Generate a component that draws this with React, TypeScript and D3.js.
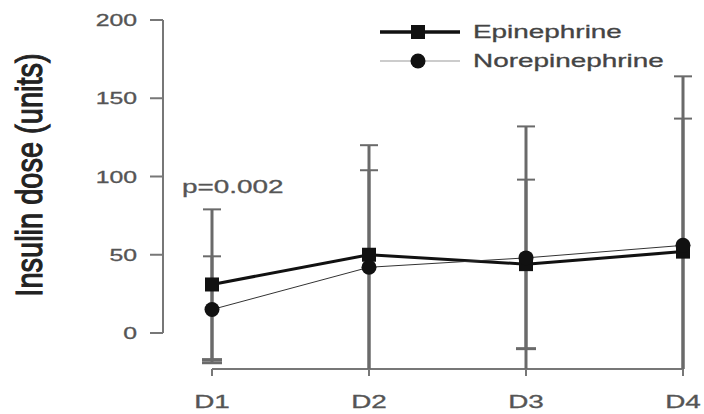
import React from 'react';
import * as d3 from 'd3';

const days = ['D1', 'D2', 'D3', 'D4'];
const yTicks = [0, 50, 100, 150, 200];

const epiMean = [31, 50, 44, 52];
const epiHigh = [79, 120, 98, 137];
const epiLow = [-17, -40, -10, -40];

const norMean = [15, 42, 48, 56];
const norHigh = [49, 104, 132, 164];
const norLow = [-19, -40, -36, -40];

const pLabel = 'p=0.002';
const FONT = '"Liberation Sans", Arial, Helvetica, sans-serif';
const SX = 1.55; // the reference is stretched sideways

const App: React.FC = () => {
  const width = 704;
  const height = 414;

  const x = d3.scalePoint<string>().domain(days).range([212, 683]);
  const y = d3.scaleLinear().domain([0, 200]).range([333, 20]);
  const yFloor = -23; // where the x axis sits
  const axisY = y(yFloor);

  const lineGen = d3.line<number>()
    .x((_, i) => x(days[i])!)
    .y(d => y(d));

  const series = [
    { name: 'Epinephrine', mean: epiMean, high: epiHigh, low: epiLow, lw: 3, shape: 'square' },
    { name: 'Norepinephrine', mean: norMean, high: norHigh, low: norLow, lw: 1, shape: 'circle' },
  ];

  const stretched = (tx: number, ty: number) => `translate(${tx},${ty}) scale(${SX},1)`;

  return (
    <svg width={width} height={height} style={{ position: 'absolute', left: 0, top: 0, background: '#fff' }}>
      {/* y axis */}
      <line x1={163} x2={163} y1={y(200)} y2={y(0)} stroke="#777" strokeWidth={2} />
      {yTicks.map(t => (
        <g key={t}>
          <line x1={150} x2={163} y1={y(t)} y2={y(t)} stroke="#777" strokeWidth={2} />
          <text transform={stretched(137, y(t) + 6)} textAnchor="end" fontSize={16} fill="#555"
            stroke="#555" strokeWidth={0.3} fontFamily={FONT}>{t}</text>
        </g>
      ))}
      <text transform={`translate(42,${175}) rotate(-90) scale(1,1.3)`} textAnchor="middle" fontSize={29} fill="#222"
        stroke="#222" strokeWidth={0.9} fontFamily={FONT}>
        Insulin dose (units)
      </text>

      {/* x axis */}
      <line x1={x('D1')!} x2={x('D4')!} y1={axisY} y2={axisY} stroke="#777" strokeWidth={2} />
      {days.map(d => (
        <g key={d}>
          <line x1={x(d)!} x2={x(d)!} y1={axisY} y2={axisY + 7} stroke="#777" strokeWidth={2} />
          <text transform={stretched(x(d)!, 408)} textAnchor="middle" fontSize={18} fill="#555"
            stroke="#555" strokeWidth={0.3} fontFamily={FONT}>{d}</text>
        </g>
      ))}

      {/* error bars */}
      {series.map(s => days.map((d, i) => {
        const cx = x(d)!;
        const lo = Math.max(s.low[i], yFloor);
        return (
          <g key={s.name + d} stroke="#6a6a6a" strokeWidth={3}>
            <line x1={cx} x2={cx} y1={y(s.high[i])} y2={y(lo)} />
            <line x1={cx - 9} x2={cx + 9} y1={y(s.high[i])} y2={y(s.high[i])} strokeWidth={2} />
            {s.low[i] > yFloor && (
              <line x1={cx - 10} x2={cx + 10} y1={y(s.low[i])} y2={y(s.low[i])} />
            )}
          </g>
        );
      }))}

      {/* lines and markers */}
      {series.map(s => (
        <g key={s.name}>
          <path d={lineGen(s.mean)!} fill="none" stroke={s.lw > 1 ? '#111' : '#333'} strokeWidth={s.lw} />
          {s.mean.map((v, i) => s.shape === 'square'
            ? <rect key={i} x={x(days[i])! - 7} y={y(v) - 7} width={14} height={14} fill="#111" />
            : <circle key={i} cx={x(days[i])!} cy={y(v)} r={7.5} fill="#111" />)}
        </g>
      ))}

      <text transform={stretched(182, 193)} fontSize={18} fill="#555" stroke="#555" strokeWidth={0.3} fontFamily={FONT}>{pLabel}</text>

      {/* legend */}
      {series.map((s, i) => {
        const ly = 32 + i * 29;
        return (
          <g key={s.name}>
            <line x1={380} x2={460} y1={ly} y2={ly} stroke={s.lw > 1 ? '#111' : '#999'} strokeWidth={s.lw > 1 ? 3.5 : 1} />
            {s.shape === 'square'
              ? <rect x={418 - 7} y={ly - 7} width={14} height={14} fill="#111" />
              : <circle cx={418} cy={ly} r={7.5} fill="#111" />}
            <text transform={stretched(473, ly + 6)} fontSize={18} fill="#444" stroke="#444" strokeWidth={0.3}
              fontFamily={FONT}>{s.name}</text>
          </g>
        );
      })}
    </svg>
  );
};

export default App;
